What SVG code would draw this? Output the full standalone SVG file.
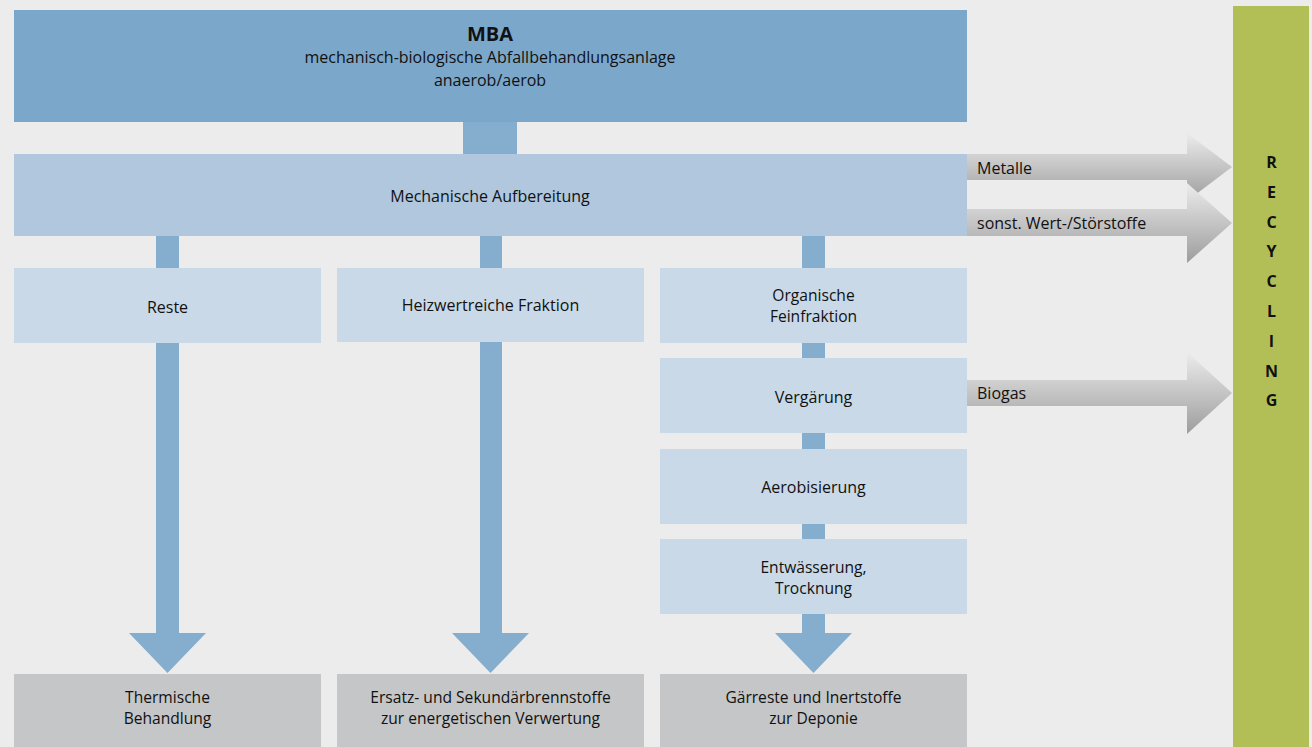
<svg xmlns="http://www.w3.org/2000/svg" width="1312" height="747" viewBox="0 0 1312 747">
<style>
text{font-family:"Open Sans","Liberation Sans",sans-serif;fill:#111;font-size:16px}
.c{text-anchor:middle}
.b{font-weight:bold}
.mba{font-size:20px}
.r{font-size:16px}
.two{font-size:15.6px}
.top{fill:#7ba7ca}
.mech{fill:#b0c7dd}
.box{fill:#c9d9e8}
.end{fill:#c5c6c7}
.conn{fill:#85adcd}
.ga{fill:url(#g)}
</style>
<defs>
<linearGradient id="g" x1="0" y1="0" x2="0" y2="1">
<stop offset="0" stop-color="#ececec"/>
<stop offset="1" stop-color="#9d9d9d"/>
</linearGradient>
</defs>
<rect width="1312" height="747" fill="#ebeceb"/>
<g id="connectors">
<rect class="conn" x="463" y="122" width="54" height="32"/>
<rect class="conn" x="156" y="236" width="23" height="32"/>
<rect class="conn" x="480" y="236" width="22" height="32"/>
<rect class="conn" x="802" y="236" width="23" height="32"/>
<path class="conn" d="M156,342H179V633H206L167.5,673L129,633H156Z"/>
<path class="conn" d="M480,342H502V633H529L490.5,673L452,633H480Z"/>
<rect class="conn" x="802" y="342" width="23" height="17"/>
<rect class="conn" x="802" y="432" width="23" height="17"/>
<rect class="conn" x="802" y="523" width="23" height="17"/>
<path class="conn" d="M802,613H825V633H852L813.5,673L775,633H802Z"/>
<path class="ga" d="M967,154H1187V133L1232,167L1187,201V180H967Z"/>
<path class="ga" d="M967,209H1187V183L1232,223L1187,263V236H967Z"/>
<path class="ga" d="M967,380H1187V352L1232,393L1187,434V406H967Z"/>
</g>
<g id="mba">
<rect class="top" x="14" y="10" width="953" height="112"/>
<text class="c b mba" x="490" y="41">MBA</text>
<text class="c" x="490" y="63">mechanisch-biologische Abfallbehandlungsanlage</text>
<text class="c" x="490" y="86">anaerob/aerob</text>
</g>
<g id="mech">
<rect class="mech" x="14" y="154" width="953" height="82"/>
<text class="c" x="490" y="202">Mechanische Aufbereitung</text>
</g>
<g id="reste">
<rect class="box" x="14" y="268" width="307" height="75"/>
<text class="c" x="167.5" y="313">Reste</text>
</g>
<g id="heizwert">
<rect class="box" x="337" y="268" width="307" height="74"/>
<text class="c" x="490.5" y="311">Heizwertreiche Fraktion</text>
</g>
<g id="organisch">
<rect class="box" x="660" y="268" width="307" height="75"/>
<text class="c two" x="813.5" y="300.5">Organische</text>
<text class="c two" x="813.5" y="322">Feinfraktion</text>
</g>
<g id="vergaerung">
<rect class="box" x="660" y="358" width="307" height="75"/>
<text class="c" x="813.5" y="403">Vergärung</text>
</g>
<g id="aerobisierung">
<rect class="box" x="660" y="449" width="307" height="75"/>
<text class="c" x="813.5" y="493">Aerobisierung</text>
</g>
<g id="entwaesserung">
<rect class="box" x="660" y="539" width="307" height="75"/>
<text class="c two" x="813.5" y="572.5">Entwässerung,</text>
<text class="c two" x="813.5" y="594">Trocknung</text>
</g>
<g id="thermisch">
<rect class="end" x="14" y="674" width="307" height="73"/>
<text class="c two" x="167.5" y="702.5">Thermische</text>
<text class="c two" x="167.5" y="724">Behandlung</text>
</g>
<g id="ersatz">
<rect class="end" x="337" y="674" width="307" height="73"/>
<text class="c two" x="490.5" y="702.5">Ersatz- und Sekundärbrennstoffe</text>
<text class="c two" x="490.5" y="724">zur energetischen Verwertung</text>
</g>
<g id="deponie">
<rect class="end" x="660" y="674" width="307" height="73"/>
<text class="c two" x="813.5" y="702.5">Gärreste und Inertstoffe</text>
<text class="c two" x="813.5" y="724">zur Deponie</text>
</g>
<g id="labels">
<text x="977" y="174">Metalle</text>
<text x="977" y="229">sonst. Wert-/Störstoffe</text>
<text x="977" y="399">Biogas</text>
</g>
<g id="recycling">
<rect x="1233" y="6" width="76" height="741" fill="#b2bf56"/>
<text class="c b r" x="1271.5" y="168">R</text>
<text class="c b r" x="1271.5" y="198">E</text>
<text class="c b r" x="1271.5" y="228">C</text>
<text class="c b r" x="1271.5" y="257">Y</text>
<text class="c b r" x="1271.5" y="287">C</text>
<text class="c b r" x="1271.5" y="317">L</text>
<text class="c b r" x="1271.5" y="347">I</text>
<text class="c b r" x="1271.5" y="377">N</text>
<text class="c b r" x="1271.5" y="406">G</text>
</g>
</svg>
